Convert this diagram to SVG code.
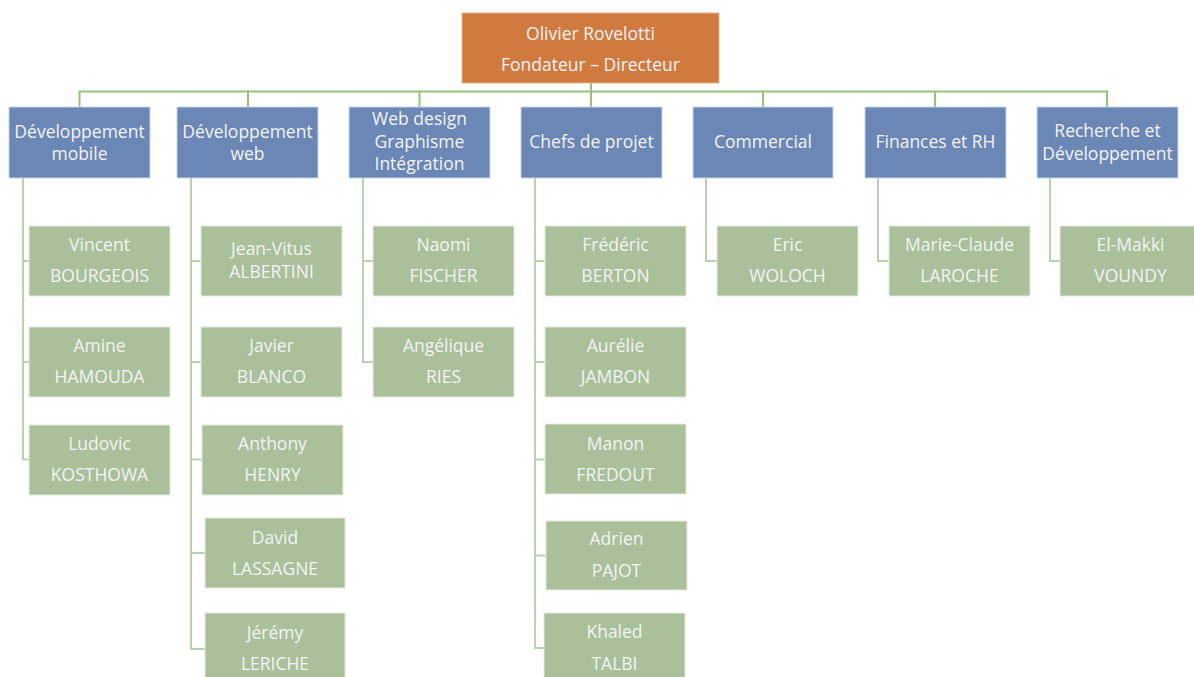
<svg xmlns="http://www.w3.org/2000/svg" width="1194" height="677" viewBox="0 0 1194 677">
<style>
text{font-family:"Open Sans","Noto Sans",sans-serif;font-size:17.5px;fill:#f4f4f4;text-anchor:middle}
.top{fill:#d07a40;stroke:#e8b28c;stroke-width:1}
.dep{fill:#6a87b6;stroke:#c9d3e6;stroke-width:1}
.emp{fill:#a9c09a;stroke:#e2ebdc;stroke-width:1}
.c1{fill:none;stroke:#92c47b;stroke-width:2}
.c2{fill:none;stroke:#b9d3ac;stroke-width:2}
</style>
<rect width="1194" height="677" fill="#ffffff"/>
<g id="connectors">
<path class="c1" d="M591 83V91.5M79.5 107V91.5H1107V107M248 91.5V107M419.5 91.5V107M591 91.5V107M763 91.5V107M935 91.5V107"/>
<path class="c2" d="M23 178V459.5H29M23 261H29M23 362H29"/>
<path class="c2" d="M191 178V649H205M191 261H201M191 362H201M191 459.5H202M191 553H205"/>
<path class="c2" d="M363 178V362H373M363 261H373"/>
<path class="c2" d="M535 178V648H544M535 261H545M535 362H545M535 459.5H545M535 555.5H546"/>
<path class="c2" d="M706 178V261H717"/>
<path class="c2" d="M878 178V261H889"/>
<path class="c2" d="M1050 178V261H1060"/>
</g>
<g id="ceo"><rect class="top" x="462" y="13" width="257" height="70"/><text x="590.5" y="39.5">Olivier Rovelotti</text><text x="590.5" y="70.5">Fondateur – Directeur</text></g>
<g id="d1"><rect class="dep" x="9" y="107" width="141" height="71"/><text x="79.5" y="137.5">Développement</text><text x="79.5" y="160">mobile</text></g>
<g id="d2"><rect class="dep" x="177" y="107" width="141" height="71"/><text x="247.5" y="137.5">Développement</text><text x="247.5" y="160">web</text></g>
<g id="d3"><rect class="dep" x="349" y="107" width="141" height="71"/><text x="419.5" y="125">Web design</text><text x="419.5" y="147.5">Graphisme</text><text x="419.5" y="170">Intégration</text></g>
<g id="d4"><rect class="dep" x="521" y="107" width="141" height="71"/><text x="591.5" y="148">Chefs de projet</text></g>
<g id="d5"><rect class="dep" x="693" y="107" width="140" height="71"/><text x="763" y="148">Commercial</text></g>
<g id="d6"><rect class="dep" x="865" y="107" width="141" height="71"/><text x="935.5" y="148">Finances et RH</text></g>
<g id="d7"><rect class="dep" x="1037" y="107" width="141" height="71"/><text x="1107.5" y="137">Recherche et</text><text x="1107.5" y="159.5">Développement</text></g>

<g id="e-vincent"><rect class="emp" x="29" y="226" width="141" height="70"/><text x="99.5" y="251">Vincent</text><text x="99.5" y="282">BOURGEOIS</text></g>
<g id="e-amine"><rect class="emp" x="29" y="327" width="141" height="70"/><text x="99.5" y="352">Amine</text><text x="99.5" y="383">HAMOUDA</text></g>
<g id="e-ludovic"><rect class="emp" x="29" y="425" width="141" height="70"/><text x="99.5" y="450">Ludovic</text><text x="99.5" y="481">KOSTHOWA</text></g>

<g id="e-jeanvitus"><rect class="emp" x="201" y="226" width="141" height="70"/><text x="271.5" y="255">Jean-Vitus</text><text x="271.5" y="278">ALBERTINI</text></g>
<g id="e-javier"><rect class="emp" x="201" y="327" width="141" height="70"/><text x="271.5" y="352">Javier</text><text x="271.5" y="383">BLANCO</text></g>
<g id="e-anthony"><rect class="emp" x="202" y="425" width="141" height="70"/><text x="272.5" y="450">Anthony</text><text x="272.5" y="481">HENRY</text></g>
<g id="e-david"><rect class="emp" x="205" y="518" width="140" height="70"/><text x="275" y="543.5">David</text><text x="275" y="575">LASSAGNE</text></g>
<g id="e-jeremy"><rect class="emp" x="205" y="613" width="140" height="70"/><text x="275" y="639">Jérémy</text><text x="275" y="670">LERICHE</text></g>

<g id="e-naomi"><rect class="emp" x="373" y="226" width="141" height="70"/><text x="443.5" y="251">Naomi</text><text x="443.5" y="282">FISCHER</text></g>
<g id="e-angelique"><rect class="emp" x="373" y="327" width="141" height="70"/><text x="443.5" y="352">Angélique</text><text x="443.5" y="383">RIES</text></g>

<g id="e-frederic"><rect class="emp" x="545" y="226" width="141" height="70"/><text x="615.5" y="251">Frédéric</text><text x="615.5" y="282">BERTON</text></g>
<g id="e-aurelie"><rect class="emp" x="545" y="327" width="141" height="70"/><text x="615.5" y="352">Aurélie</text><text x="615.5" y="383">JAMBON</text></g>
<g id="e-manon"><rect class="emp" x="545" y="424" width="141" height="70"/><text x="615.5" y="450">Manon</text><text x="615.5" y="481">FREDOUT</text></g>
<g id="e-adrien"><rect class="emp" x="546" y="521" width="141" height="69"/><text x="616.5" y="545">Adrien</text><text x="616.5" y="577">PAJOT</text></g>
<g id="e-khaled"><rect class="emp" x="544" y="613" width="141" height="70"/><text x="614.5" y="637.5">Khaled</text><text x="614.5" y="670">TALBI</text></g>

<g id="e-eric"><rect class="emp" x="717" y="226" width="141" height="70"/><text x="787.5" y="251">Eric</text><text x="787.5" y="282">WOLOCH</text></g>
<g id="e-marieclaude"><rect class="emp" x="889" y="226" width="141" height="70"/><text x="959.5" y="251">Marie-Claude</text><text x="959.5" y="282">LAROCHE</text></g>
<g id="e-elmakki"><rect class="emp" x="1060" y="226" width="141" height="70"/><text x="1130.5" y="251">El-Makki</text><text x="1130.5" y="282">VOUNDY</text></g>
</svg>
